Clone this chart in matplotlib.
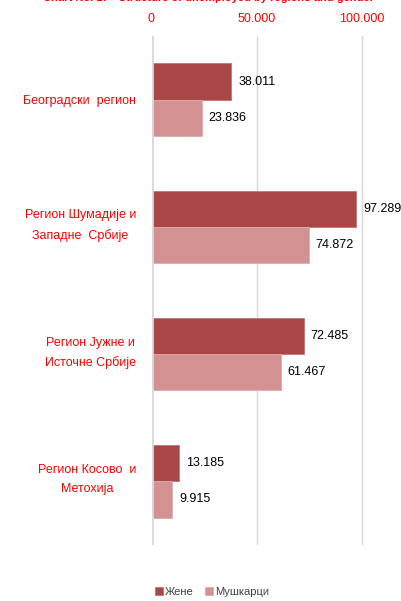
import matplotlib
matplotlib.use('Agg')
import matplotlib.pyplot as plt
import matplotlib.transforms as mtransforms
import numpy as np

plt.rcParams['font.family'] = ['Liberation Sans', 'DejaVu Sans']

# Data: unemployed by region and gender
regions = ['Београдски  регион',
           'Регион Шумадије и\nЗападне  Србије',
           'Регион Јужне и\nИсточне Србије',
           'Регион Косово  и\nМетохија']
women = [38011, 97289, 72485, 13185]
men = [23836, 74872, 61467, 9915]
series_names = ['Жене', 'Мушкарци']
x_ticks = [0, 50000, 100000]
x_ticklabels = ['0', '50.000', '100.000']

red = '#FF0000'
c_women = '#A94646'
c_men = '#D39292'

fig = plt.figure(figsize=(4.01, 6.01), dpi=100)
ax = fig.add_axes([151.5 / 401, 56 / 601, 1 - 151.5 / 401, 509 / 601])

y = np.arange(len(regions))
h = 0.284
b1 = ax.barh(y - h / 2, women, height=h, color=c_women, edgecolor='#C87474',
             linewidth=0.6, label=series_names[0], zorder=3)
b2 = ax.barh(y + h / 2, men, height=h, color=c_men, edgecolor='#E0AAAA',
             linewidth=0.6, label=series_names[1], zorder=3)

def fmt(v):
    return f'{v:,}'.replace(',', '.')

for bars, vals in ((b1, women), (b2, men)):
    for bar, v in zip(bars, vals):
        ax.annotate(fmt(v), (v, bar.get_y() + bar.get_height() / 2),
                    xytext=(5, 0), textcoords='offset points',
                    va='center', ha='left', fontsize=9, color='#000000')

ax.set_xlim(0, (401 - 151.5) / 105.1 * 50000)
ax.set_ylim(len(regions) - 0.5, -0.5)

ax.xaxis.tick_top()
ax.set_xticks(x_ticks)
ax.set_xticklabels(x_ticklabels, color=red, fontsize=9)
ax.tick_params(axis='x', length=0, pad=8)

ax.set_yticks(y)
ax.set_yticklabels(regions, color=red, fontsize=9, multialignment='center',
                   linespacing=1.75, va='center_baseline')
ax.tick_params(axis='y', length=0, pad=11)

# two-line labels sit a bit higher in the original
for lab in ax.get_yticklabels():
    if '\n' in lab.get_text():
        lab.set_transform(lab.get_transform() +
                          mtransforms.ScaledTranslation(0, 0.065, fig.dpi_scale_trans))

ax.grid(axis='x', color='#D9D9D9', linewidth=1, zorder=0)
ax.axvline(0, color='#D9D9D9', linewidth=2, zorder=4)
for s in ax.spines.values():
    s.set_visible(False)

# title is cut off at the top in the original
fig.text(209 / 401, 1 - 1 / 601, 'Chart No. 17 - Structure of unemployed by regions and gender',
         ha='center', va='baseline', color=red, fontsize=8, fontweight='bold')

fig.legend(handles=[b1, b2], labels=series_names, loc='center',
           bbox_to_anchor=(212 / 401, 1 - 592 / 601), ncol=2, frameon=False,
           fontsize=8, labelcolor='#404040', handlelength=0.7, handleheight=0.7,
           handletextpad=0.2, columnspacing=1.0)

fig.savefig('out.png', dpi=100, facecolor='white')
